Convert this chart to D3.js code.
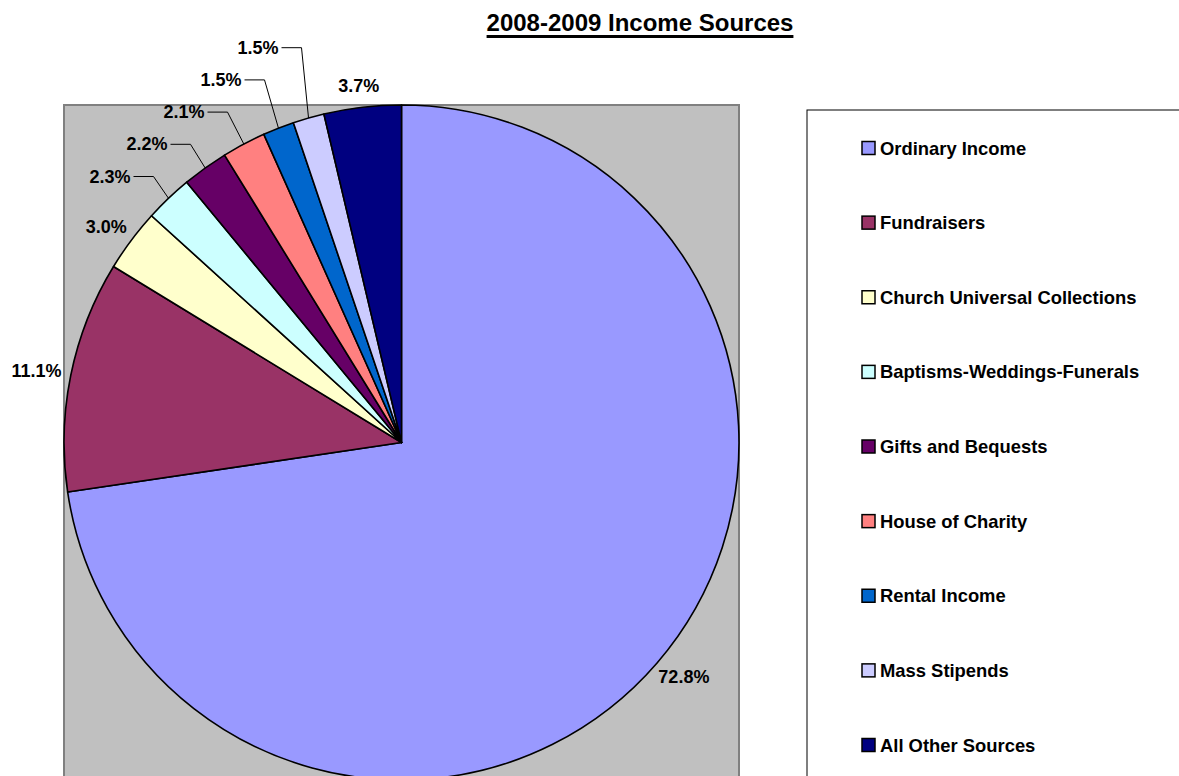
<!DOCTYPE html>
<html>
<head>
<meta charset="utf-8">
<script src="https://cdn.jsdelivr.net/npm/d3@7"></script>
<style>
  html, body { margin: 0; padding: 0; background: #ffffff; }
  svg { display: block; }
  text { font-family: "Liberation Sans", Arial, sans-serif; font-weight: bold; fill: #000; }
</style>
</head>
<body>
<svg id="chart" width="1179" height="776"></svg>
<script>
// ---- data ----
const categories = [
  "Ordinary Income",
  "Fundraisers",
  "Church Universal Collections",
  "Baptisms-Weddings-Funerals",
  "Gifts and Bequests",
  "House of Charity",
  "Rental Income",
  "Mass Stipends",
  "All Other Sources"
];
const values = [72.8, 11.1, 3.0, 2.3, 2.2, 2.1, 1.5, 1.5, 3.7];
const colors = ["#9999FF", "#993366", "#FFFFCC", "#CCFFFF", "#660066", "#FF8080", "#0066CC", "#CCCCFF", "#000080"];
const titleText = "2008-2009 Income Sources";

// ---- layout ----
const plot = { x: 64, y: 105, w: 675, h: 720 };
const R = plot.w / 2;
const cx = plot.x + R, cy = plot.y + R;
const legendBox = { x: 807, y: 110, w: 420, h: 720 };

const svg = d3.select("#chart");

// title
const title = svg.append("text")
  .attr("x", 640).attr("y", 31)
  .attr("text-anchor", "middle")
  .style("font-size", "24px")
  .text(titleText);
const tb = title.node().getBBox();
svg.append("rect")
  .attr("x", tb.x).attr("y", 35)
  .attr("width", tb.width).attr("height", 3)
  .attr("fill", "#000");

// plot area
svg.append("rect")
  .attr("x", plot.x).attr("y", plot.y)
  .attr("width", plot.w).attr("height", plot.h)
  .attr("fill", "#C0C0C0")
  .attr("stroke", "#808080").attr("stroke-width", 2);

// pie
const pie = d3.pie().sort(null).value(d => d.value)
  .startAngle(0).endAngle(2 * Math.PI);
const arcs = pie(categories.map((c, i) => ({ name: c, value: values[i], color: colors[i] })));
const arc = d3.arc().innerRadius(0).outerRadius(R);

const g = svg.append("g").attr("transform", `translate(${cx},${cy})`);
g.selectAll("path.slice")
  .data(arcs)
  .join("path")
  .attr("class", "slice")
  .attr("d", arc)
  .attr("fill", d => d.data.color)
  .attr("stroke", "#000")
  .attr("stroke-width", 1.6)
  .attr("stroke-linejoin", "round");

// labels
const fmt = d => d3.format(".1f")(d) + "%";
const labelG = svg.append("g");
let k = 0;
arcs.forEach(d => {
  const a = (d.startAngle + d.endAngle) / 2;
  const dx = Math.sin(a), dy = -Math.cos(a);
  if (d.data.value < 2.5) {
    // stacked labels with leader lines
    const xr = cx - 271 + 37 * k;
    const yl = cy - 266 - 32.2 * k;
    k++;
    labelG.append("text")
      .attr("x", xr).attr("y", yl)
      .attr("text-anchor", "end")
      .attr("dominant-baseline", "central")
      .style("font-size", "18px")
      .text(fmt(d.data.value));
    const ex = cx + R * dx, ey = cy + R * dy;
    labelG.append("path")
      .attr("d", d3.line()([[xr + 3, yl], [xr + 23, yl], [ex, ey]]))
      .attr("fill", "none")
      .attr("stroke", "#000")
      .attr("stroke-width", 1);
  } else {
    const t = labelG.append("text")
      .attr("text-anchor", "middle")
      .attr("dominant-baseline", "central")
      .style("font-size", "18px")
      .text(fmt(d.data.value));
    const w = t.node().getComputedTextLength();
    const h = 13;
    const off = 15;
    const px = cx + (R + off) * dx + dx * w / 2 * 0.8;
    const py = cy + (R + off) * dy + dy * h / 2;
    t.attr("x", px).attr("y", py);
  }
});

// legend
svg.append("rect")
  .attr("x", legendBox.x).attr("y", legendBox.y)
  .attr("width", legendBox.w).attr("height", legendBox.h)
  .attr("fill", "#fff")
  .attr("stroke", "#000").attr("stroke-width", 1);

const ly = d3.scalePoint().domain(categories).range([148, 745]);
const lg = svg.append("g").selectAll("g")
  .data(categories)
  .join("g")
  .attr("transform", d => `translate(862,${ly(d)})`);
lg.append("rect")
  .attr("x", 0).attr("y", -6.5)
  .attr("width", 13).attr("height", 13)
  .attr("fill", (d, i) => colors[i])
  .attr("stroke", "#000").attr("stroke-width", 1.5);
lg.append("text")
  .attr("x", 18).attr("y", 0)
  .attr("dominant-baseline", "central")
  .style("font-size", "18.4px")
  .text(d => d);
</script>
</body>
</html>
